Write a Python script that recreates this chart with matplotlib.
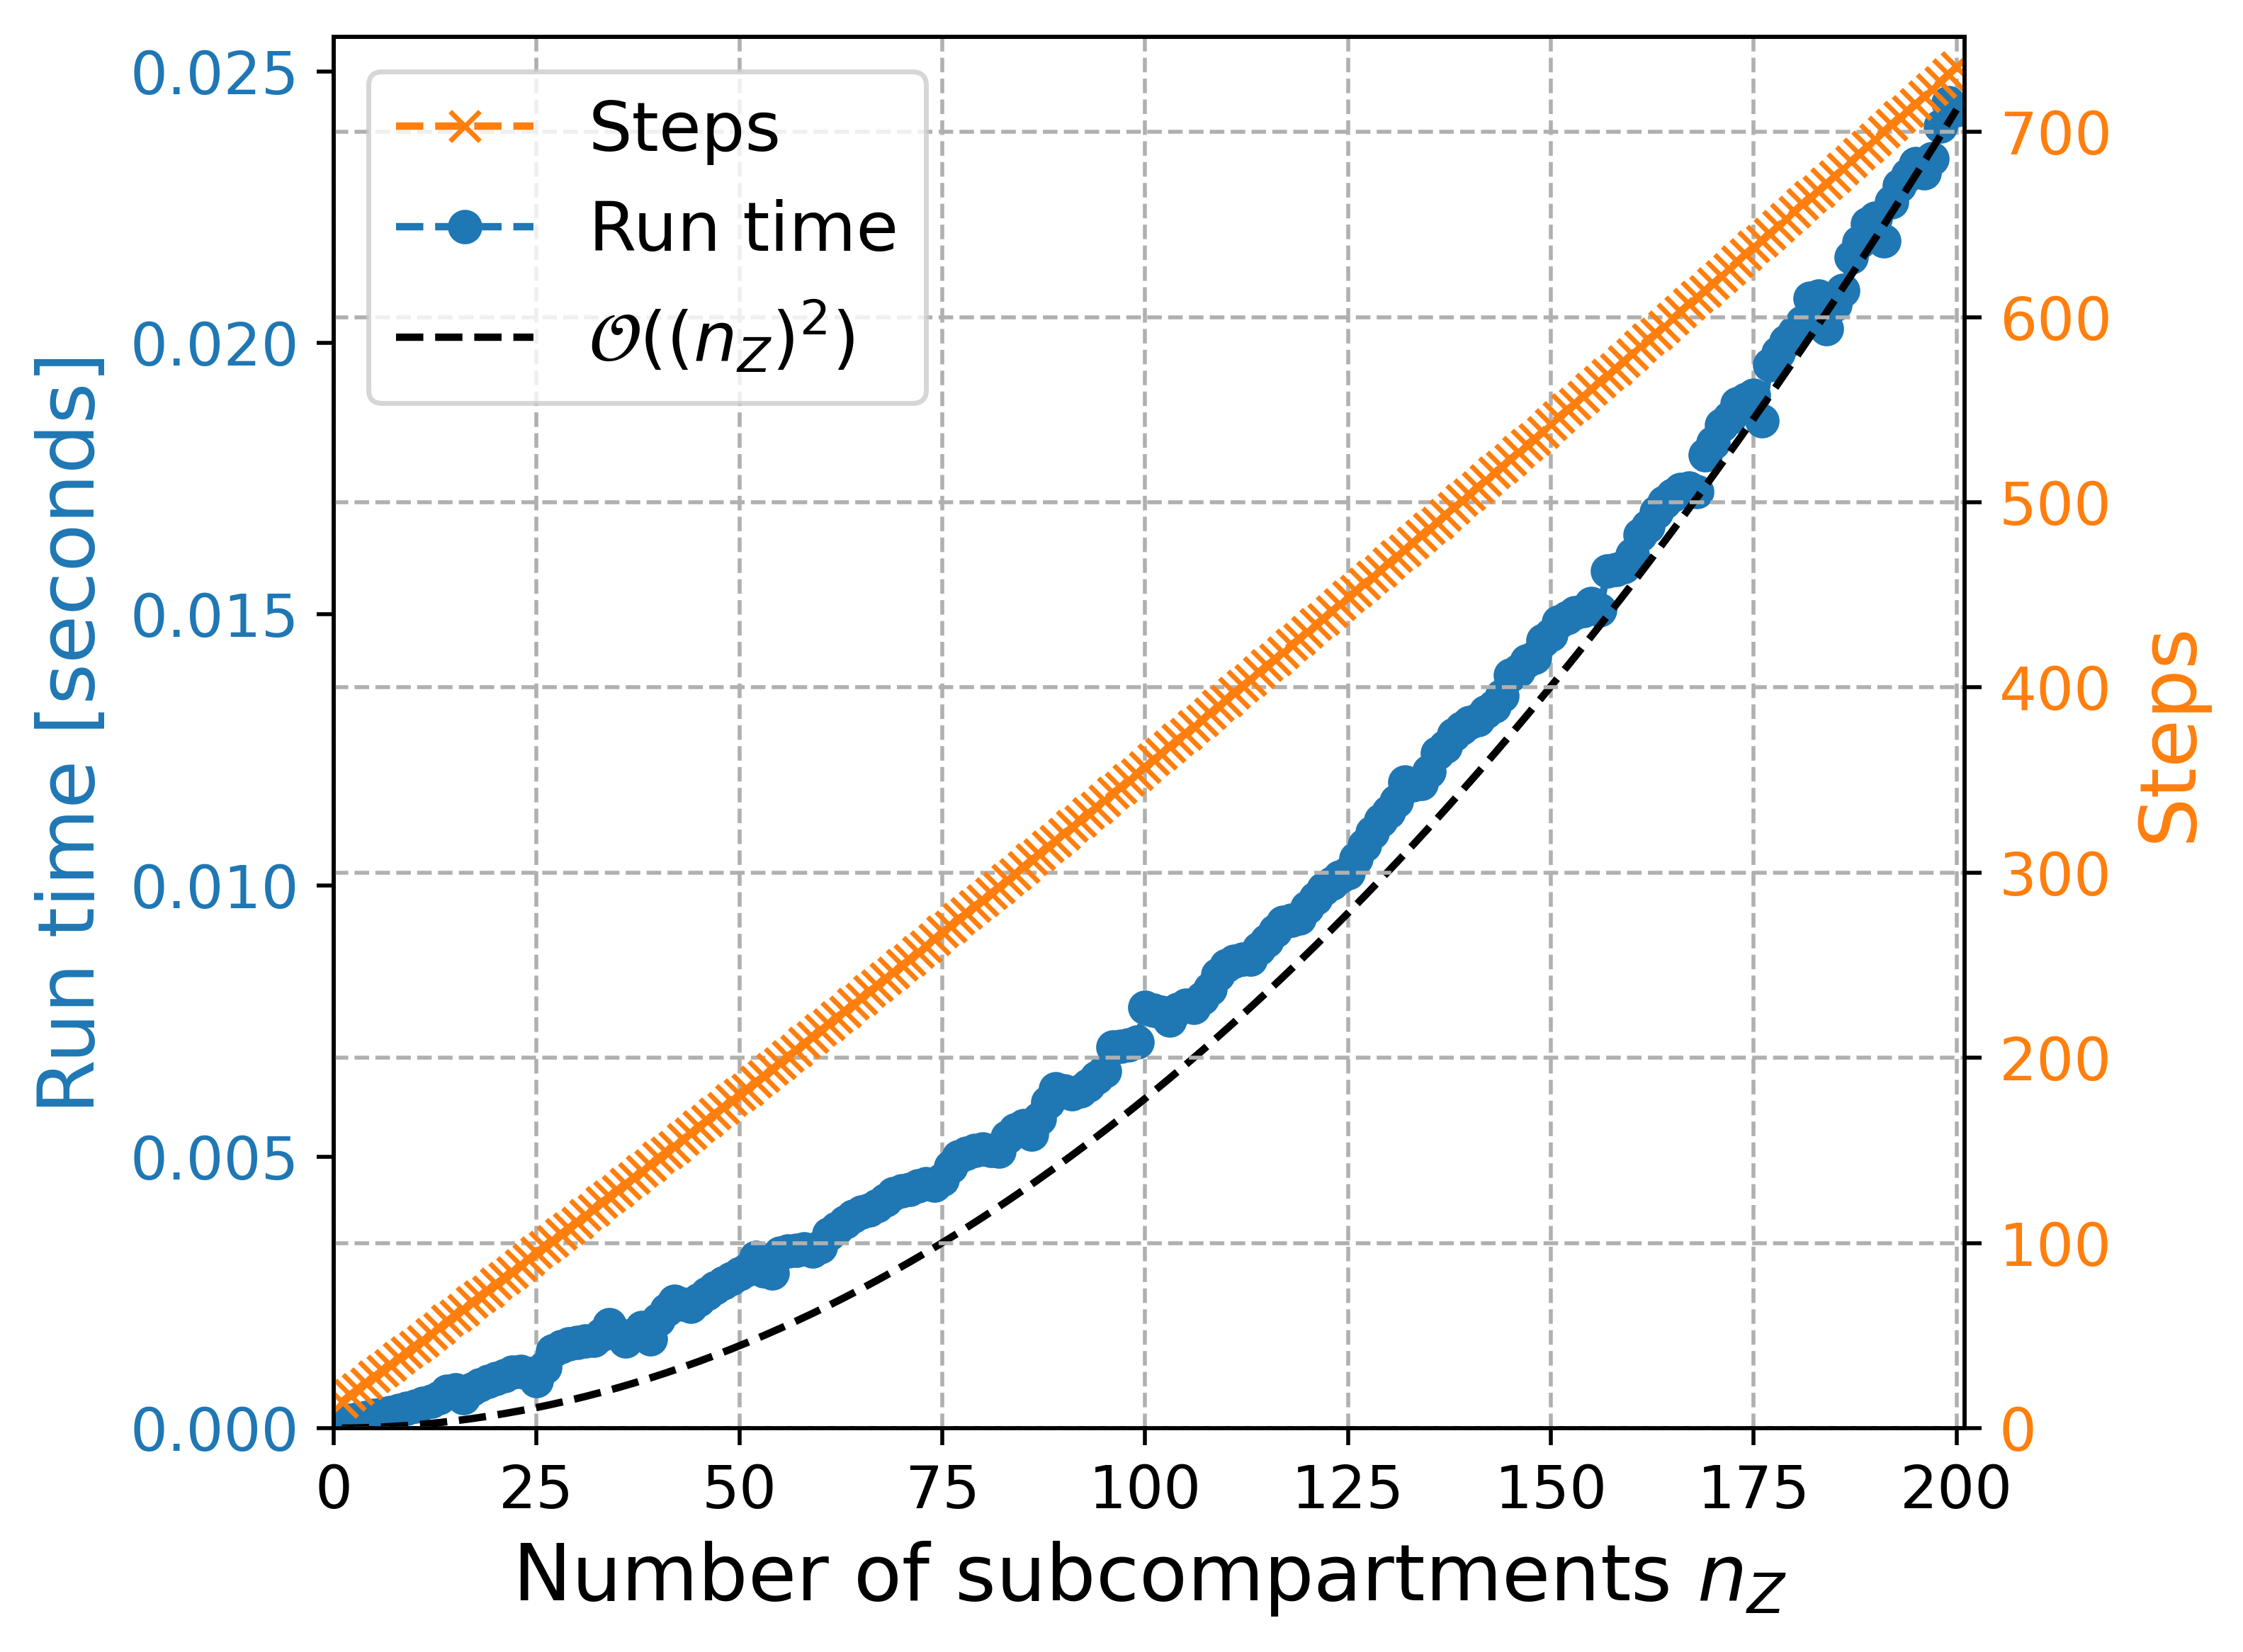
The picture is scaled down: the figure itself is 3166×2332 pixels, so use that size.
import matplotlib
matplotlib.use("Agg")
import matplotlib.pyplot as plt
import numpy as np

# number of subcompartments n_Z = 1 ... 200
n_z = list(range(1, 201))

# solver steps
steps = [
    14, 18, 21, 24, 28, 31, 34, 38, 41, 44,
    47, 51, 54, 58, 61, 64, 68, 71, 74, 78,
    81, 84, 88, 91, 95, 98, 101, 105, 108, 111,
    115, 118, 122, 125, 128, 132, 135, 139, 142, 146,
    149, 152, 156, 159, 163, 166, 170, 173, 177, 180,
    183, 187, 190, 194, 197, 201, 204, 208, 211, 215,
    218, 222, 225, 229, 232, 236, 239, 243, 246, 250,
    253, 257, 260, 264, 268, 271, 275, 278, 282, 285,
    289, 292, 296, 299, 303, 307, 310, 314, 317, 321,
    325, 328, 332, 335, 339, 343, 346, 350, 353, 357,
    361, 364, 368, 372, 375, 379, 382, 386, 390, 393,
    397, 401, 404, 408, 412, 415, 419, 423, 426, 430,
    434, 437, 441, 445, 449, 452, 456, 460, 463, 467,
    471, 474, 478, 482, 486, 489, 493, 497, 501, 504,
    508, 512, 516, 519, 523, 527, 531, 534, 538, 542,
    546, 550, 553, 557, 561, 565, 569, 572, 576, 580,
    584, 588, 591, 595, 599, 603, 607, 611, 614, 618,
    622, 626, 630, 634, 638, 641, 645, 649, 653, 657,
    661, 665, 668, 672, 676, 680, 684, 688, 692, 696,
    700, 704, 708, 711, 715, 719, 723, 727, 731, 735,
]

# run time in milliseconds
run_time_ms = [
    0.12, 0.15, 0.17, 0.20, 0.23, 0.26, 0.29, 0.33, 0.37, 0.41,
    0.46, 0.50, 0.56, 0.68, 0.70, 0.56, 0.72, 0.80, 0.86, 0.92,
    0.97, 1.03, 1.05, 1.01, 0.87, 1.12, 1.42, 1.50, 1.56, 1.58,
    1.60, 1.62, 1.72, 1.90, 1.74, 1.60, 1.72, 1.86, 1.64, 2.00,
    2.18, 2.34, 2.28, 2.24, 2.36, 2.48, 2.58, 2.68, 2.76, 2.84,
    2.92, 3.14, 2.90, 2.86, 3.22, 3.26, 3.28, 3.30, 3.26, 3.34,
    3.58, 3.68, 3.80, 3.90, 3.98, 4.02, 4.10, 4.20, 4.32, 4.38,
    4.40, 4.46, 4.50, 4.48, 4.58, 4.82, 5.00, 5.06, 5.12, 5.14,
    5.12, 5.10, 5.36, 5.50, 5.58, 5.42, 5.70, 6.00, 6.26, 6.22,
    6.16, 6.22, 6.32, 6.46, 6.58, 7.02, 7.04, 7.06, 7.12, 7.76,
    7.70, 7.66, 7.52, 7.72, 7.80, 7.76, 7.92, 8.10, 8.36, 8.52,
    8.60, 8.64, 8.64, 8.84, 8.98, 9.16, 9.32, 9.36, 9.40, 9.60,
    9.76, 9.94, 10.04, 10.16, 10.24, 10.50, 10.74, 10.98, 11.20, 11.36,
    11.56, 11.90, 11.86, 11.88, 12.10, 12.44, 12.56, 12.78, 12.90, 13.00,
    13.06, 13.20, 13.30, 13.50, 13.88, 13.96, 14.14, 14.20, 14.52, 14.62,
    14.86, 14.94, 15.02, 15.06, 15.20, 15.08, 15.80, 15.82, 15.88, 16.10,
    16.46, 16.62, 16.88, 17.06, 17.20, 17.30, 17.32, 17.26, 17.94, 18.16,
    18.48, 18.62, 18.88, 18.96, 19.04, 18.56, 19.60, 19.82, 20.02, 20.20,
    20.38, 20.82, 20.86, 20.26, 20.70, 20.96, 21.58, 21.86, 22.20, 22.30,
    21.88, 22.60, 22.90, 23.10, 23.30, 23.14, 23.40, 24.00, 24.42, 24.30,
]

nz = np.array(n_z)
run_time = np.array(run_time_ms) * 1e-3
# quadratic reference curve scaled to the last measurement
ref = run_time[-1] * (nz / nz[-1]) ** 2

fig, ax = plt.subplots(figsize=(3166 / 500, 2332 / 500), dpi=500)
fig.subplots_adjust(left=0.1488, right=0.8759, bottom=0.1355, top=0.9777)

l1, = ax.plot(nz, run_time, "--o", color="C0", label="Run time")
l2, = ax.plot(nz, ref, "k--", label=r"$\mathcal{O}((n_Z)^2)$")
ax.set_xlabel(r"Number of subcompartments $n_Z$", fontsize=16)
ax.set_ylabel("Run time [seconds]", color="C0", fontsize=16)
ax.tick_params(axis="y", labelcolor="C0", labelsize=12)
ax.tick_params(axis="x", labelsize=12)
ax.set_xlim(0, 201)
ax.set_ylim(0, 0.02564)
ax.grid(True, axis="x", linestyle="--")

ax2 = ax.twinx()
l0, = ax2.plot(nz, steps, "--x", color="C1", label="Steps")
ax2.set_ylabel("Steps", color="C1", fontsize=16)
ax2.tick_params(axis="y", labelcolor="C1", labelsize=12)
ax2.set_ylim(0, 751.3)
ax2.grid(True, axis="y", linestyle="--")

handles = [l0, l1, l2]
ax2.legend(handles, [h.get_label() for h in handles], loc="upper left", fontsize=14)

fig.savefig("out.png", dpi=500)
